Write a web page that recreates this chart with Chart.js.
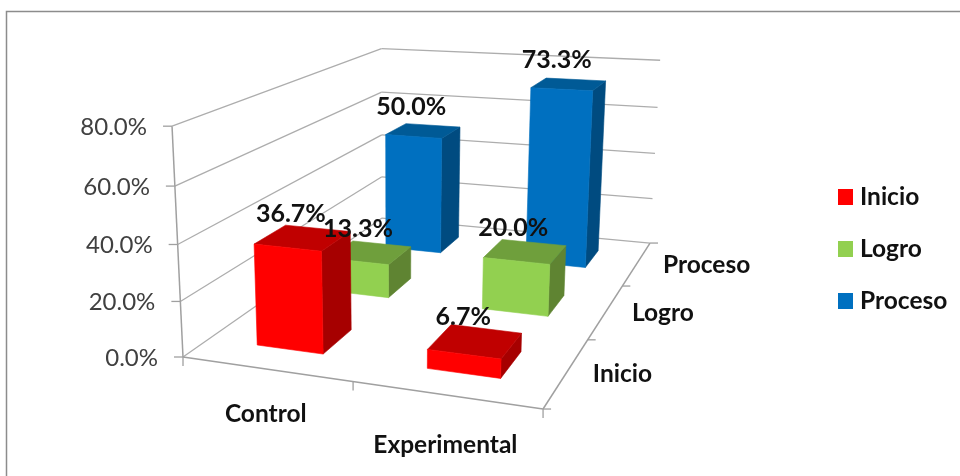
<!DOCTYPE html>
<html>
<head>
<meta charset="utf-8">
<script src="https://cdn.jsdelivr.net/npm/chart.js@4"></script>
<style>
  html, body { margin: 0; background: #fff; }
  canvas { display: block; }
</style>
</head>
<body>
<canvas id="myChart" width="960" height="476"></canvas>
<script>
// data
const categories = ['Control', 'Experimental'];
const seriesNames = ['Inicio', 'Logro', 'Proceso'];
const inicio = [36.7, 6.7];
const logro = [13.3, 20.0];
const proceso = [50.0, 73.3];
const tickValues = [0, 20, 40, 60, 80];

// colours: front, top, side
const shades = [
  ['#ff0000', '#c00000', '#a60000'],
  ['#92d050', '#6f9f3c', '#5f8432'],
  ['#0070c0', '#005a96', '#004b80']
];
const gridColor = '#adadad';
const axisColor = '#a0a0a0';
const font = 'Lato, "Open Sans", sans-serif';

// projection of the 3d box (u left-right, v front-back, t height, all 0..1)
function project(u, v, t) {
  const w = -0.1047 * u + 0.3851 * v - 0.049 * t + 1;
  return {
    x: (303.2 * u + 346.1 * v - 19.4 * t + 183) / w,
    y: (9.2 * u - 55 * v - 237 * t + 357) / w
  };
}

function heightOf(yScale, value) {
  return (yScale.bottom - yScale.getPixelForValue(value)) / (yScale.bottom - yScale.top);
}

function poly(ctx, points, fill) {
  ctx.beginPath();
  points.forEach((p, i) => i ? ctx.lineTo(p.x, p.y) : ctx.moveTo(p.x, p.y));
  ctx.closePath();
  ctx.fillStyle = fill;
  ctx.fill();
  ctx.strokeStyle = fill;
  ctx.lineWidth = 0.6;
  ctx.stroke();
}

function line(ctx, a, b, color, width) {
  ctx.beginPath();
  ctx.moveTo(a.x, a.y);
  ctx.lineTo(b.x, b.y);
  ctx.strokeStyle = color;
  ctx.lineWidth = width;
  ctx.stroke();
}

// bars as boxes, 150% gap in both directions
class Bar3d extends Chart.BarController {
  draw() {
    const ctx = this.chart.ctx;
    const xScale = this._cachedMeta.xScale;
    const yScale = this._cachedMeta.yScale;
    const s = this.index;
    const color = shades[s];
    const v0 = (s + 0.3) / seriesNames.length;
    const v1 = (s + 0.7) / seriesNames.length;
    this.getDataset().data.forEach((value, i) => {
      const uc = (xScale.getPixelForValue(i) - xScale.left) / xScale.width;
      const u0 = uc - 0.1;
      const u1 = uc + 0.1;
      const t = heightOf(yScale, value);
      poly(ctx, [project(u1, v0, 0), project(u1, v1, 0), project(u1, v1, t), project(u1, v0, t)], color[2]);
      poly(ctx, [project(u0, v0, t), project(u1, v0, t), project(u1, v1, t), project(u0, v1, t)], color[1]);
      poly(ctx, [project(u0, v0, 0), project(u1, v0, 0), project(u1, v0, t), project(u0, v0, t)], color[0]);
    });
  }
}
Bar3d.id = 'bar3d';
Bar3d.defaults = Chart.BarController.defaults;
Chart.register(Bar3d);

// walls, floor, ticks and axis text
const boxPlugin = {
  id: 'box',
  beforeDatasetsDraw(chart) {
    const ctx = chart.ctx;
    const yScale = chart.scales.y;
    const xScale = chart.scales.x;
    ctx.save();

    // outer frame, only top and left show
    ctx.strokeStyle = '#8c8c8c';
    ctx.lineWidth = 1.5;
    ctx.beginPath();
    ctx.moveTo(6.5, 476);
    ctx.lineTo(6.5, 11.5);
    ctx.lineTo(960, 11.5);
    ctx.stroke();

    yScale.ticks.forEach((tick) => {
      const t = heightOf(yScale, tick.value);
      const front = project(0, 0, t);
      const back = project(0, 1, t);
      line(ctx, front, back, gridColor, 1.3);
      line(ctx, back, project(1, 1, t), gridColor, 1.3);
      line(ctx, front, { x: front.x - 9, y: front.y }, axisColor, 1.3);
      ctx.fillStyle = '#404040';
      ctx.font = '24px ' + font;
      ctx.textAlign = 'right';
      ctx.textBaseline = 'middle';
      ctx.fillText(tick.label, front.x - 25, front.y + 1);
    });

    // axis lines of the floor
    line(ctx, project(0, 0, 0), project(0, 0, 1), axisColor, 1.5);
    line(ctx, project(0, 0, 0), project(1, 0, 0), axisColor, 1.5);
    line(ctx, project(1, 0, 0), project(1, 1, 0), axisColor, 1.5);

    // ticks between the categories
    [0, 1, 2].forEach((n) => {
      const p = project(n / categories.length, 0, 0);
      line(ctx, p, { x: p.x, y: p.y + 9 }, axisColor, 1.3);
    });
    // ticks between the series
    [0, 1, 2, 3].forEach((n) => {
      const p = project(1, n / seriesNames.length, 0);
      line(ctx, p, { x: p.x + 8, y: p.y }, axisColor, 1.3);
    });

    ctx.fillStyle = '#111';
    ctx.font = 'bold 24.5px ' + font;
    ctx.textBaseline = 'middle';
    ctx.textAlign = 'center';
    categories.forEach((name, i) => {
      const u = (xScale.getPixelForValue(i) - xScale.left) / xScale.width;
      const p = project(u, 0, 0);
      ctx.fillText(name, p.x, p.y + 45 + (u - 0.25) * 10);
    });
    ctx.textAlign = 'left';
    seriesNames.forEach((name, i) => {
      const p = project(1, (i + 0.5) / seriesNames.length, 0);
      ctx.fillText(name, p.x + 26, p.y + 2);
    });
    ctx.restore();
  },
  afterDatasetsDraw(chart) {
    const ctx = chart.ctx;
    const yScale = chart.scales.y;
    const xScale = chart.scales.x;
    ctx.save();

    // value labels above the boxes
    ctx.fillStyle = '#111';
    ctx.font = 'bold 25px ' + font;
    ctx.textAlign = 'center';
    ctx.textBaseline = 'middle';
    chart.data.datasets.forEach((ds, s) => {
      ds.data.forEach((value, i) => {
        const u = (xScale.getPixelForValue(i) - xScale.left) / xScale.width;
        const p = project(u, (s + 0.5) / seriesNames.length, heightOf(yScale, value));
        ctx.fillText(value.toFixed(1) + '%', p.x - 12, p.y - 24);
      });
    });

    // legend, the built-in one leaves too wide a gap after the box
    ctx.font = 'bold 24.5px ' + font;
    ctx.textAlign = 'left';
    chart.data.datasets.forEach((ds, s) => {
      const rowY = 197 + s * 52;
      ctx.fillStyle = ds.backgroundColor;
      ctx.fillRect(838, rowY - 8, 15, 16);
      ctx.fillStyle = '#111';
      ctx.fillText(ds.label, 860, rowY);
    });
    ctx.restore();
  }
};

const data = {
  labels: categories,
  datasets: [
    { label: seriesNames[0], data: inicio, backgroundColor: shades[0][0], borderWidth: 0, clip: false },
    { label: seriesNames[1], data: logro, backgroundColor: shades[1][0], borderWidth: 0, clip: false },
    { label: seriesNames[2], data: proceso, backgroundColor: shades[2][0], borderWidth: 0, clip: false }
  ]
};

// config
const config = {
  type: 'bar3d',
  data,
  options: {
    responsive: false,
    animation: false,
    layout: { padding: { top: 126, bottom: 119, left: 40, right: 0 } },
    scales: {
      x: { type: 'category', offset: true, display: false },
      y: {
        min: 0,
        max: 80,
        grid: { display: false },
        border: { display: false },
        afterBuildTicks: (axis) => { axis.ticks = tickValues.map((value) => ({ value })); },
        ticks: {
          display: false,
          callback: (value) => value.toFixed(1) + '%'
        }
      }
    },
    plugins: {
      tooltip: { enabled: false },
      legend: { display: false }
    }
  },
  plugins: [boxPlugin]
};

// render
const myChart = new Chart(document.getElementById('myChart'), config);
</script>
</body>
</html>
